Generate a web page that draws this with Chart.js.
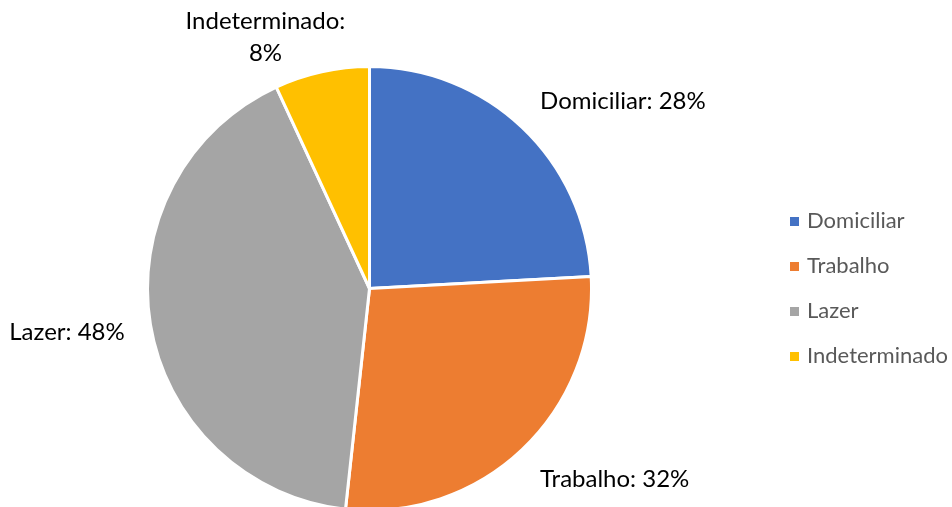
<!DOCTYPE html>
<html>
<head>
<meta charset="utf-8">
<script src="https://cdn.jsdelivr.net/npm/chart.js@4/dist/chart.umd.min.js"></script>
<style>
  html, body { margin: 0; padding: 0; background: #fff; overflow: hidden; }
  #wrap { width: 952px; height: 512px; position: relative; }
</style>
</head>
<body>
<div id="wrap"><canvas id="pieChart"></canvas></div>
<script>
const categories = ["Domiciliar", "Trabalho", "Lazer", "Indeterminado"];
const values = [28, 32, 48, 8];
const colors = ["#4472C4", "#ED7D31", "#A5A5A5", "#FFC000"];

const FONT = "Lato, 'Open Sans', sans-serif";

// data labels outside the slices, "Name: value%"
const outsideLabels = {
  id: "outsideLabels",
  afterDatasetsDraw(chart) {
    const ctx = chart.ctx;
    const meta = chart.getDatasetMeta(0);
    ctx.save();
    ctx.font = "24px " + FONT;
    ctx.fillStyle = "#000";
    ctx.textAlign = "center";
    ctx.textBaseline = "middle";
    meta.data.forEach((arc, i) => {
      const mid = (arc.startAngle + arc.endAngle) / 2;
      const dx = Math.cos(mid);
      const up = -Math.sin(mid);
      const nearVertical = Math.abs(dx) < 0.3;
      const r = arc.outerRadius + (nearVertical ? 2 : 26);
      const px = arc.x + dx * r;
      const py = arc.y - up * r;
      let lines = [categories[i] + ": " + values[i] + "%"];
      if (nearVertical) lines = [categories[i] + ":", values[i] + "%"];
      const lh = 32;
      const w = Math.max(...lines.map((t) => ctx.measureText(t).width));
      const h = lines.length === 1 ? 14 : lines.length * lh;
      let left;
      if (dx > 0.3) left = px;
      else if (dx < -0.3) left = px - w;
      else left = px - w + 24;
      let top;
      if (up > 0.7) top = py - h;
      else if (up < -0.7) top = py + 4;
      else top = py - h / 2 + 4;
      if (lines.length === 1) {
        ctx.fillText(lines[0], left + w / 2, top + h / 2);
      } else {
        lines.forEach((t, k) => {
          ctx.fillText(t, left + w / 2, top + lh * k + lh / 2);
        });
      }
    });
    ctx.restore();
  },
};

// legend on the right
const sideLegend = {
  id: "sideLegend",
  afterDraw(chart) {
    const ctx = chart.ctx;
    ctx.save();
    ctx.font = "22px " + FONT;
    ctx.textBaseline = "middle";
    ctx.textAlign = "left";
    categories.forEach((name, i) => {
      const y = 221 + i * 45;
      ctx.fillStyle = colors[i];
      ctx.fillRect(790, y - 4, 9, 9);
      ctx.fillStyle = "#595959";
      ctx.fillText(name, 807, y);
    });
    ctx.restore();
  },
};

const ctx = document.getElementById("pieChart").getContext("2d");
new Chart(ctx, {
  type: "pie",
  data: {
    labels: categories,
    datasets: [
      {
        data: values,
        backgroundColor: colors,
        borderColor: "#fff",
        borderWidth: 3,
      },
    ],
  },
  options: {
    responsive: true,
    maintainAspectRatio: false,
    animation: false,
    layout: { padding: { left: 146, right: 359, top: 65, bottom: 0 } },
    plugins: {
      legend: { display: false },
      tooltip: { enabled: false },
    },
  },
  plugins: [outsideLabels, sideLegend],
});
</script>
</body>
</html>
